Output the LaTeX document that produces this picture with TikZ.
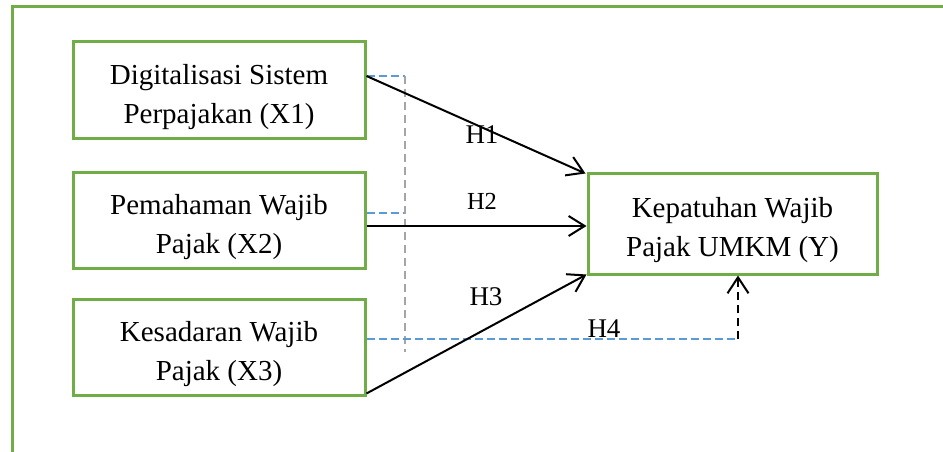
\documentclass[tikz,border=0pt]{standalone}
\usepackage{fontspec}
\setmainfont{Liberation Serif}
\usetikzlibrary{arrows.meta}
\definecolor{frgreen}{HTML}{70AD47}
\definecolor{dblue}{HTML}{5B9BD5}
\definecolor{dgray}{HTML}{A5A5A5}
\newcommand{\downstrut}{\rule{0pt}{34pt}}
\tikzset{
  varbox/.style={draw=frgreen, line width=3pt, minimum width=292pt, minimum height=96pt,
    inner sep=0pt, align=center, font=\fontsize{29}{39}\selectfont},
  hyparrow/.style={line width=2pt, -{Straight Barb[length=16pt,width=20pt,line width=2pt]}},
  bluedash/.style={dblue, line width=2pt, dash pattern=on 8pt off 4pt},
  graydash/.style={dgray, line width=2pt, dash pattern=on 8pt off 5pt},
  blackdash/.style={line width=2.2pt, dash pattern=on 8pt off 5pt,
    -{Straight Barb[length=16pt,width=21pt,line width=2pt]}},
  hlabel/.style={inner sep=0pt, font=\fontsize{27}{30}\selectfont},
}
\begin{document}
\begin{tikzpicture}[x=1pt,y=-1pt]
\useasboundingbox (0,0) rectangle (943,452);
% outer frame (top and left visible)
\draw[frgreen, line width=3pt] (943,7) -- (12,7) -- (12,452);
% boxes
\node[varbox] (b1) at (219,90) {\downstrut Digitalisasi Sistem\\Perpajakan (X1)};
\node[varbox] (b2) at (219,220) {\downstrut Pemahaman Wajib\\Pajak (X2)};
\node[varbox] (b3) at (219,347) {\downstrut Kesadaran Wajib\\Pajak (X3)};
\node[varbox, minimum width=289pt, minimum height=101pt] (y) at (732.5,223.5) {\downstrut Kepatuhan Wajib\\Pajak UMKM (Y)};
% junction coordinates
\coordinate (j1) at (405,76);
\coordinate (j2) at (405,213);
\coordinate (jb) at (405,352);
\coordinate (k3) at (738,339);
% moderation dashed lines
\draw[bluedash] (b1.east |- j1) -- (j1);
\draw[bluedash] (b2.east |- j2) -- (j2);
\draw[graydash] (j1) -- (jb);
\draw[bluedash] (b3.east |- k3) -- (k3);
\draw[blackdash] (k3) -- (y.south -| k3);
% hypothesis arrows
\draw[hyparrow] (b1.east |- j1) -- ([xshift=-1pt,yshift=-2pt]y.north west);
\draw[hyparrow] ([yshift=-6pt]b2.east) -- ([yshift=-2.5pt]y.west);
\draw[hyparrow] ([yshift=3pt]b3.south east) -- ([yshift=1pt]y.south west);
% labels
\node[hlabel] (h1) at (482,135) {H1};
\node[hlabel, font=\fontsize{24.5}{28}\selectfont] (h2) at (482,201) {H2};
\node[hlabel] (h3) at (486,297) {H3};
\node[hlabel] (h4) at (604,329) {H4};
\end{tikzpicture}
\end{document}
